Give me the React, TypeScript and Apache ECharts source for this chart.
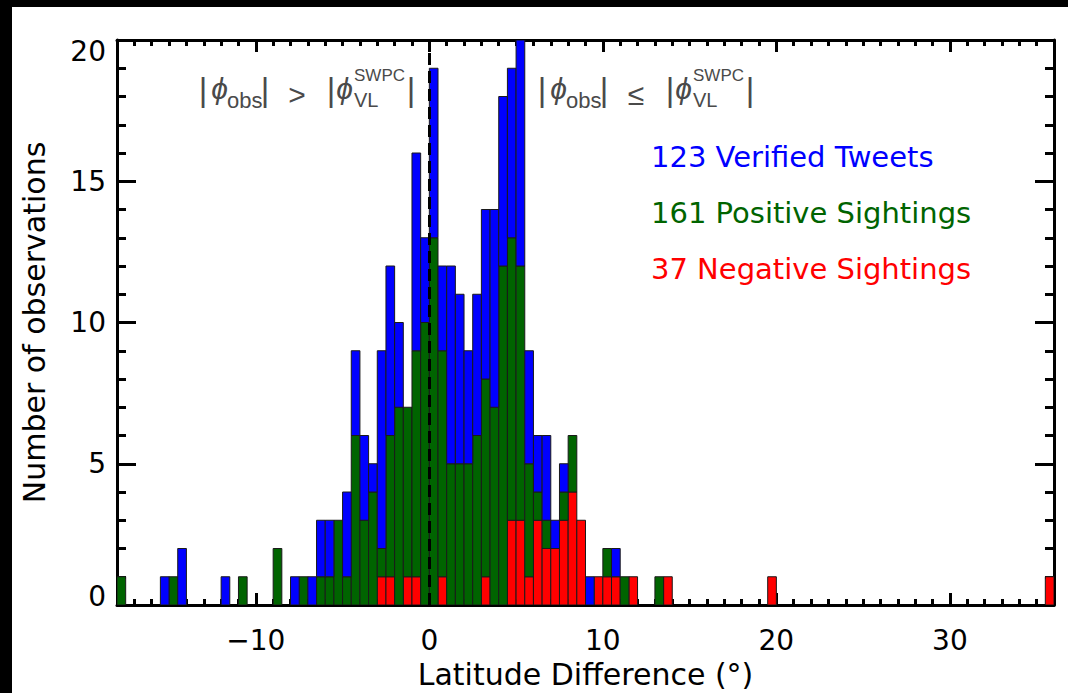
import React, { useEffect, useRef } from "react";
import * as echarts from "echarts";

// ---------- data (histogram, 0.5° bins, bin start values) ----------
const BIN_WIDTH = 0.5;
const binStarts = [
  -18, -15.5, -15, -14.5, -12, -11, -9, -8, -7.5, -7,
  -6.5, -6, -5.5, -5, -4.5, -4, -3.5, -3, -2.5, -2, -1.5, -1, -0.5,
  0, 0.5, 1, 1.5, 2, 2.5, 3, 3.5, 4, 4.5, 5, 5.5, 6, 6.5, 7, 7.5, 8, 8.5, 9, 9.5, 10, 10.5, 11, 11.5,
  13, 13.5, 19.5, 35.5,
];
const negativeCounts = [
  0, 0, 0, 0, 0, 0, 0, 0, 0, 0,
  0, 0, 0, 0, 0, 0, 0, 1, 1, 0, 1, 1, 0,
  0, 1, 0, 0, 0, 0, 1, 0, 0, 3, 3, 1, 3, 2, 2, 3, 4, 3, 0, 1, 1, 1, 0, 1,
  0, 1, 1, 1,
];
const positiveCounts = [
  1, 0, 1, 0, 0, 1, 2, 0, 1, 0,
  1, 1, 3, 1, 6, 3, 4, 1, 5, 7, 6, 8, 10,
  13, 8, 5, 5, 5, 6, 7, 7, 12, 10, 9, 4, 1, 1, 0, 1, 2, 0, 0, 0, 1, 0, 1, 0,
  1, 0, 0, 0,
];
const tweetCounts = [
  0, 1, 0, 2, 1, 0, 0, 1, 0, 1,
  2, 2, 0, 3, 3, 3, 1, 7, 6, 3, 0, 7, 3,
  6, 3, 7, 6, 4, 5, 6, 7, 6, 6, 8, 4, 2, 3, 1, 1, 0, 0, 1, 0, 0, 1, 0, 0,
  0, 0, 0, 0,
];
const seriesNames = ["37 Negative Sightings", "161 Positive Sightings", "123 Verified Tweets"];
const seriesColors = ["#ff0000", "#006400", "#0000ff"];
const xMajorTicks = [-10, 0, 10, 20, 30];
const X_MIN = -18;
const X_MAX = 36;
const Y_MIN = 0;
const Y_MAX = 20;

const FONT = '"DejaVu Sans", sans-serif';
const ANN_FONT = '"Liberation Sans", "DejaVu Sans", sans-serif';
const ANN_COLOR = "#4a4a4a";

function stackedData() {
  const layers = [negativeCounts, positiveCounts, tweetCounts];
  const base = binStarts.map(() => 0);
  return layers.map((counts) =>
    binStarts
      .map((x, i) => {
        const b = base[i];
        const t = b + counts[i];
        base[i] = t;
        return [x, b, t];
      })
      .filter((d) => d[2] > d[1])
  );
}

function annotation(x0: number, op: string) {
  const yMid = 89;
  const t = (dx: number, y: number, text: string, size: number, align = "center", italic = false) => ({
    type: "text",
    x: x0 + dx,
    y,
    silent: true,
    style: {
      text,
      fill: ANN_COLOR,
      font: `${italic ? "italic " : ""}${size}px ${ANN_FONT}`,
      textAlign: align,
      textVerticalAlign: "middle",
    },
  });
  return [
    t(0, yMid, "|", 33),
    t(16.5, 88, "ϕ", 30, "center", true),
    t(24, 100, "obs", 22, "left"),
    t(62, yMid, "|", 33),
    t(94, 94, op, 30),
    t(128, yMid, "|", 33),
    t(141.5, 88, "ϕ", 30, "center", true),
    t(151, 75, "SWPC", 17, "left"),
    t(151, 100, "VL", 20, "left"),
    t(208, yMid, "|", 33),
  ];
}

export default function App() {
  const ref = useRef<HTMLDivElement>(null);
  useEffect(() => {
    if (!ref.current) return;
    const chart = echarts.init(ref.current, undefined, { renderer: "svg" });
    const data = stackedData();
    const axisLine = { show: true, onZero: false, lineStyle: { color: "#000", width: 3 } };
    const noLine = { show: false, onZero: false };
    const labelBase = { color: "#000", fontFamily: FONT, fontSize: 28 };
    const minorX = (position: string) => ({
      type: "value",
      position,
      min: X_MIN,
      max: X_MAX,
      interval: 1,
      axisLine,
      axisTick: { show: true, inside: true, length: 6, lineStyle: { color: "#000", width: 3 } },
      axisLabel: { show: false },
      splitLine: { show: false },
    });
    const majorX = (position: string, labels: boolean) => ({
      type: "value",
      position,
      min: X_MIN,
      max: X_MAX,
      axisLine: noLine,
      axisTick: {
        show: true,
        inside: true,
        length: 12,
        customValues: xMajorTicks,
        lineStyle: { color: "#000", width: 3 },
      },
      axisLabel: {
        show: labels,
        customValues: xMajorTicks,
        margin: 21,
        ...labelBase,
        formatter: (v: number) => (v < 0 ? "\u2212" + Math.abs(v) : String(v)),
      },
      splitLine: { show: false },
    });
    const minorY = (position: string) => ({
      type: "value",
      position,
      min: Y_MIN,
      max: Y_MAX,
      interval: 1,
      axisLine,
      axisTick: { show: true, inside: true, length: 9, lineStyle: { color: "#000", width: 3 } },
      axisLabel: { show: false },
      splitLine: { show: false },
    });
    const majorY = (position: string, labels: boolean) => ({
      type: "value",
      position,
      min: Y_MIN,
      max: Y_MAX,
      interval: 5,
      axisLine: noLine,
      axisTick: { show: true, inside: true, length: 19, lineStyle: { color: "#000", width: 3 } },
      axisLabel: {
        show: labels,
        margin: 11,
        ...labelBase,
        formatter: (v: number) => (v === Y_MIN ? `{lo|${v}}` : v === Y_MAX ? `{hi|${v}}` : String(v)),
        rich: {
          lo: { ...labelBase, padding: [0, 0, 17, 0] },
          hi: { ...labelBase, padding: [22, 0, 0, 0] },
        },
      },
      splitLine: { show: false },
    });

    const xAxes: any[] = [minorX("bottom"), majorX("bottom", true), minorX("top"), majorX("top", false)];
    xAxes[1].name = "Latitude Difference (°)";
    xAxes[1].nameLocation = "middle";
    xAxes[1].nameGap = 54;
    xAxes[1].nameTextStyle = { color: "#000", fontFamily: FONT, fontSize: 30 };
    const yAxes: any[] = [minorY("left"), majorY("left", true), minorY("right"), majorY("right", false)];
    yAxes[1].name = "Number of observations";
    yAxes[1].nameLocation = "middle";
    yAxes[1].nameGap = 68;
    yAxes[1].nameRotate = 90;
    yAxes[1].nameTextStyle = { color: "#000", fontFamily: FONT, fontSize: 30 };

    const series: any[] = data.map((d, s) => ({
      type: "custom",
      name: seriesNames[s],
      xAxisIndex: 0,
      yAxisIndex: 0,
      data: d,
      dimensions: ["x", "base", "top"],
      encode: { x: 0, y: 2 },
      clip: true,
      renderItem: (_params: any, api: any) => {
        const x0 = api.value(0);
        const p0 = api.coord([x0, api.value(2)]);
        const p1 = api.coord([x0 + BIN_WIDTH, api.value(1)]);
        return {
          type: "rect",
          shape: { x: p0[0], y: p0[1], width: p1[0] - p0[0], height: p1[1] - p0[1] },
          style: { fill: seriesColors[s], stroke: "#1a1a1a", lineWidth: 1 },
        };
      },
    }));
    series.push({
      type: "line",
      data: [],
      silent: true,
      markLine: {
        silent: true,
        symbol: "none",
        label: { show: false },
        lineStyle: { color: "#000", width: 3, type: [12, 6] },
        data: [{ xAxis: 0 }],
      },
      z: 10,
    });

    const legendY = [157, 213, 269];
    const legendItems = [2, 1, 0].map((s, i) => ({
      type: "text",
      x: 651,
      y: legendY[i],
      silent: true,
      style: {
        text: seriesNames[s],
        fill: seriesColors[s],
        font: `29px ${FONT}`,
        textAlign: "left",
        textVerticalAlign: "middle",
      },
    }));

    chart.setOption({
      animation: false,
      backgroundColor: "#fff",
      grid: {
        left: 117,
        right: 14,
        top: 40,
        bottom: 88,
        containLabel: false,
        outerBoundsMode: "none",
      },
      xAxis: xAxes,
      yAxis: yAxes,
      series,
      graphic: [
        { type: "rect", shape: { x: 0, y: 0, width: 1068, height: 7 }, style: { fill: "#000" }, silent: true },
        { type: "rect", shape: { x: 0, y: 0, width: 12, height: 693 }, style: { fill: "#000" }, silent: true },
        ...annotation(203, ">"),
        ...annotation(542, "≤"),
        ...legendItems,
      ],
    });
    return () => chart.dispose();
  }, []);
  return (
    <div
      ref={ref}
      style={{ position: "absolute", left: 0, top: 0, width: 1068, height: 693, background: "#fff" }}
    />
  );
}
